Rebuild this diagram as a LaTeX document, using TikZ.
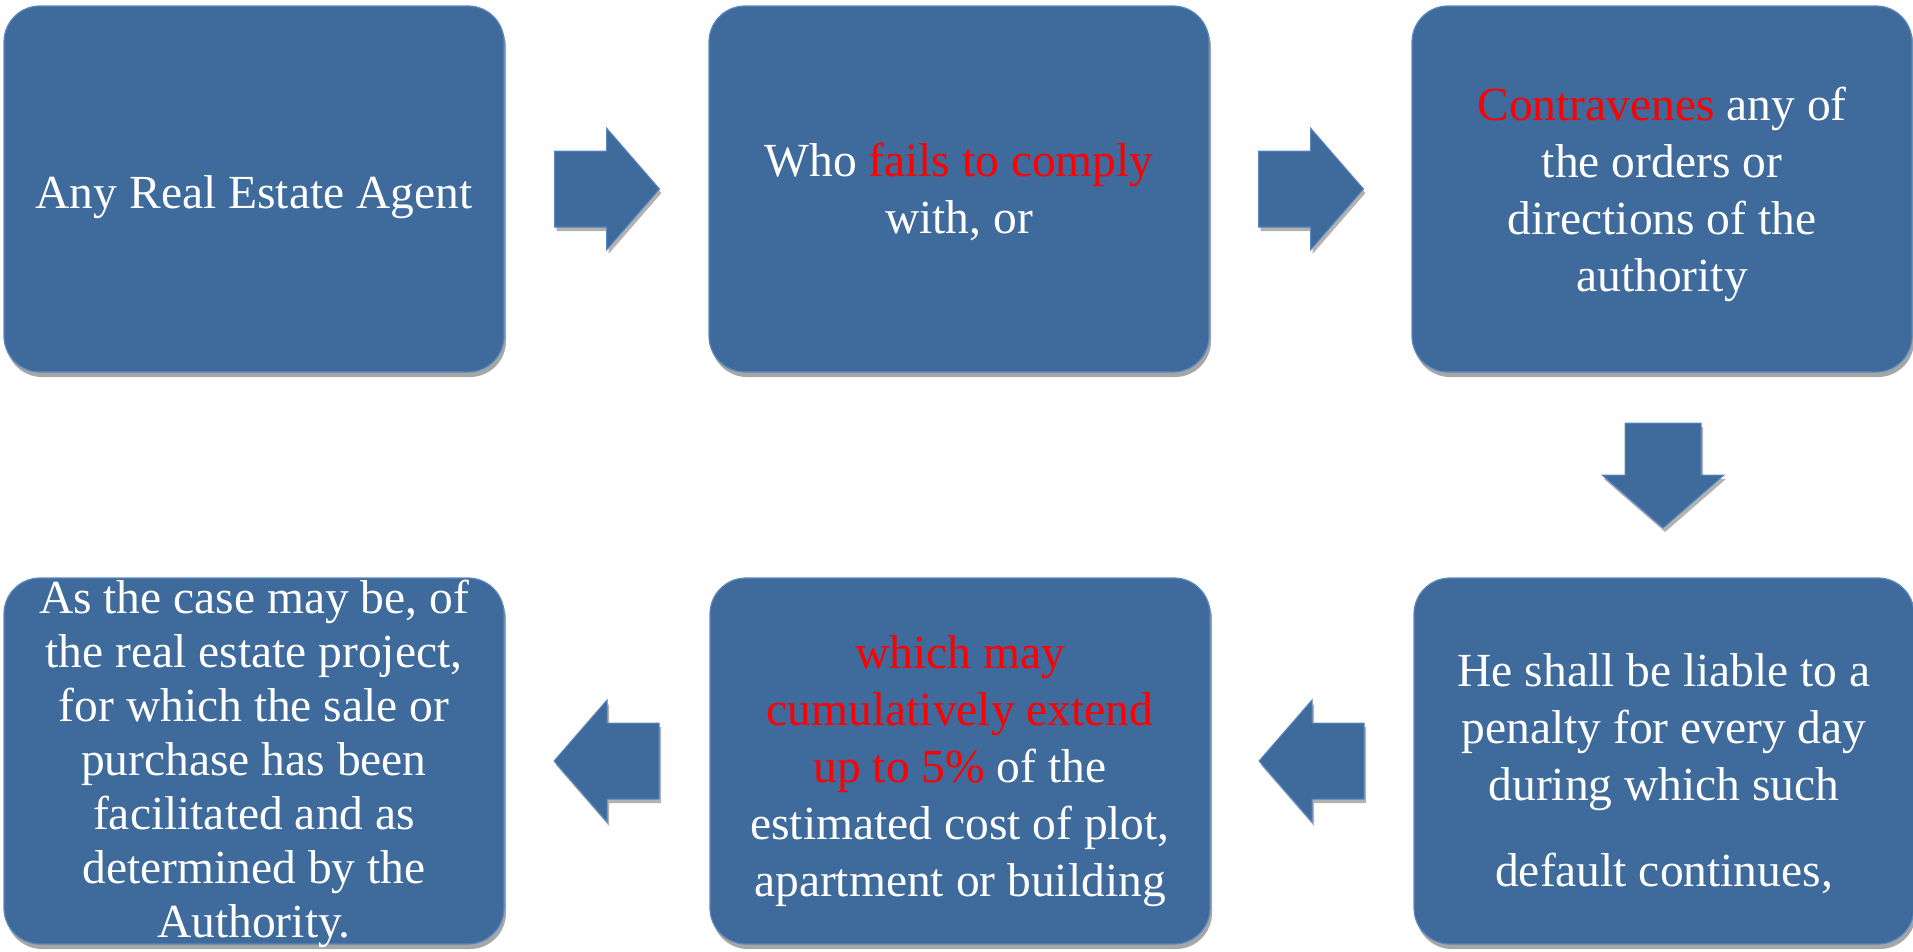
\documentclass[tikz,border=0pt]{standalone}
\usepackage{fontspec}
\setmainfont{Liberation Serif}
\usetikzlibrary{calc,shadows}
\definecolor{boxblue}{RGB}{62,106,156}
\definecolor{edgeblue}{RGB}{90,135,190}
\definecolor{hired}{RGB}{255,0,0}
\tikzset{
  box/.style={rounded corners=36pt, fill=boxblue, draw=edgeblue, line width=1.2pt,
    minimum width=500pt, minimum height=366pt,
    drop shadow={shadow xshift=2pt, shadow yshift=-5pt, fill=black, opacity=0.35}},
  boxtext/.style={text=white, align=center, inner sep=0pt,
    font=\fontsize{47.5}{57}\selectfont},
  blockarrow/.pic={
    \fill[boxblue, draw=edgeblue, line width=1pt, line join=miter,
      drop shadow={shadow xshift=2pt, shadow yshift=-4pt, fill=black, opacity=0.3}]
      (-52,-38) -- (0,-38) -- (0,-61) -- (53,0) -- (0,61) -- (0,38) -- (-52,38) -- cycle;
  }
}
\begin{document}
\begin{tikzpicture}[x=1pt,y=-1pt]
\useasboundingbox (0,0) rectangle (1913,951);
\node[box] (b1) at (254,189) {};
\node[box] (b2) at (959,189) {};
\node[box] (b3) at (1662,189) {};
\node[box] (b6) at (1664,761) {};
\node[box] (b5) at (960,761) {};
\node[box] (b4) at (254,761) {};
\node[boxtext] (t1) at ($(b1.center)+(0,8)$) {Any Real Estate Agent};
\node[boxtext] (t2) at ($(b2.center)+(0,3)$) {Who \textcolor{hired}{fails to comply}\\with, or};
\node[boxtext] (t3) at ($(b3.center)+(0,5)$) {\textcolor{hired}{Contravenes} any of\\the orders or\\directions of the\\authority};
\node[boxtext] (t6) at ($(b6.center)+(0,13)$) {He shall be liable to a\\penalty for every day\\during which such\\[29pt]default continues,};
\node[boxtext] (t5) at ($(b5.center)+(0,10)$) {\textcolor{hired}{which may}\\\textcolor{hired}{cumulatively extend}\\\textcolor{hired}{up to 5\%} of the\\estimated cost of plot,\\apartment or building};
\node[boxtext, font=\fontsize{47.5}{54}\selectfont] (t4) at ($(b4.center)+(0,3)$) {As the case may be, of\\the real estate project,\\for which the sale or\\purchase has been\\facilitated and as\\determined by the\\Authority.};
\pic at ($(b1.east)!0.5!(b2.west)$) {blockarrow};
\pic at ($(b2.east)!0.5!(b3.west)$) {blockarrow};
\pic[rotate=-90] at ($(b3.south)!0.5!(b6.north)$) {blockarrow};
\pic[rotate=180] at ($(b6.west)!0.5!(b5.east)$) {blockarrow};
\pic[rotate=180] at ($(b5.west)!0.5!(b4.east)$) {blockarrow};
\end{tikzpicture}
\end{document}
